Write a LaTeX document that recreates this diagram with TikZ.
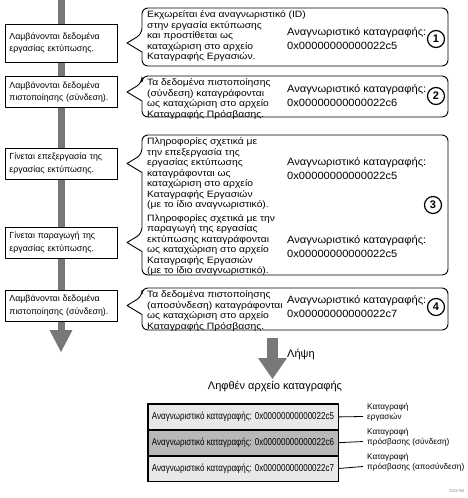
\documentclass[tikz,border=0pt]{standalone}
\usepackage{fontspec}
\setmainfont{Liberation Sans}
\newfontfamily\rfont[FakeStretch=1.12]{Liberation Sans}
\newfontfamily\idfont[FakeStretch=1.06]{Liberation Sans}
\usepackage{graphicx}
\definecolor{bargray}{gray}{0.47}
\definecolor{rowlight}{gray}{0.91}
\definecolor{rowdark}{gray}{0.72}
\newcommand\smalltxt{\rfont\fontsize{9.2}{10.5}\selectfont}
\newcommand\lefttxt{\fontsize{8.8}{12.5}\selectfont}
\newcommand\idtxt{\idfont\fontsize{10.5}{14}\selectfont}
\newcommand\titletxt{\fontsize{11}{12}\selectfont}
\newcommand\tabtxt{\fontsize{10}{12}\selectfont}
\newcommand\labtxt{\fontsize{8.2}{10.5}\selectfont}
\begin{document}
\begin{tikzpicture}[x=1pt,y=-1pt,line join=round,
  lbox/.style={draw, line width=0.9pt, fill=white, anchor=west, text width=104pt, inner xsep=4pt, inner ysep=0pt, minimum height=31pt, align=left, font=\lefttxt},
  cbox/.style={draw, line width=0.9pt, fill=white},
  rtxt/.style={anchor=north west, inner sep=0pt, align=left, font=\smalltxt},
  idn/.style={anchor=west, inner sep=0pt, align=left, font=\idtxt},
  num/.style={draw, circle, line width=1.2pt, minimum size=17pt, inner sep=0pt, font=\fontsize{11}{11}\selectfont\bfseries},
  row/.style={draw, line width=0.8pt, minimum width=190pt, minimum height=25pt, inner sep=0pt, font=\tabtxt},
  lab/.style={anchor=west, inner sep=0pt, align=left, font=\labtxt},
  conn/.style={line width=0.8pt}]
\useasboundingbox (0,0) rectangle (467,498);

% main vertical flow arrow
\fill[bargray] (57.5,0) rectangle (64.5,331);
\fill[bargray] (49.5,330) -- (72.5,330) -- (61,352) -- cycle;

% left step boxes
\node[lbox, minimum height=38pt] (l1) at (5,43) {Λαμβάνονται δεδομένα\\εργασίας εκτύπωσης.};
\node[lbox] (l2) at (5,92) {Λαμβάνονται δεδομένα\\πιστοποίησης (σύνδεση).};
\node[lbox] (l3) at (5,163.5) {Γίνεται επεξεργασία της\\εργασίας εκτύπωσης.};
\node[lbox] (l4) at (5,242.5) {Γίνεται παραγωγή της\\εργασίας εκτύπωσης.};
\node[lbox] (l5) at (5,305.5) {Λαμβάνονται δεδομένα\\πιστοποίησης (σύνδεση).};

% callout boxes
\draw[cbox] (142,34) -- (127,43) -- (142,52) [rounded corners=6pt] -- (142,66) -- (448,66) -- (448,8) -- (142,8) -- cycle;
\draw[cbox] (142,83) -- (127,92) -- (142,101) [rounded corners=6pt] -- (142,117) -- (448,117) -- (448,76) -- (142,76) -- cycle;
\draw[cbox] (142,154.5) -- (127,163.5) -- (142,172.5) [rounded corners=6pt] -- (142,233.5) [sharp corners] -- (127,242.5) -- (142,251.5) [rounded corners=6pt] -- (142,275) -- (448,275) -- (448,135) -- (142,135) -- cycle;
\draw[cbox] (142,296.5) -- (127,305.5) -- (142,314.5) [rounded corners=6pt] -- (142,330) -- (448,330) -- (448,288) -- (142,288) -- cycle;

% callout texts
\node[rtxt] (t1) at (147,10.5) {Εκχωρείται ένα αναγνωριστικό (ID)\\στην εργασία εκτύπωσης\\και προστίθεται ως\\καταχώριση στο αρχείο\\Καταγραφής Εργασιών.};
\node[rtxt] (t2) at (147,78.5) {Τα δεδομένα πιστοποίησης\\(σύνδεση) καταγράφονται\\ως καταχώριση στο αρχείο\\Καταγραφής Πρόσβασης.};
\node[rtxt] (t3) at (147,137.5) {Πληροφορίες σχετικά με\\την επεξεργασία της\\εργασίας εκτύπωσης\\καταγράφονται ως\\καταχώριση στο αρχείο\\Καταγραφής Εργασιών\\(με το ίδιο αναγνωριστικό).\\[3pt]Πληροφορίες σχετικά με την\\παραγωγή της εργασίας\\εκτύπωσης καταγράφονται\\ως καταχώριση στο αρχείο\\Καταγραφής Εργασιών\\(με το ίδιο αναγνωριστικό).};
\node[rtxt] (t4) at (147,290.5) {Τα δεδομένα πιστοποίησης\\(αποσύνδεση) καταγράφονται\\ως καταχώριση στο αρχείο\\Καταγραφής Πρόσβασης.};

% IDs
\node[idn] (i1) at (287,39) {Αναγνωριστικό καταγραφής:\\0x00000000000022c5};
\node[idn] (i2) at (287,96) {Αναγνωριστικό καταγραφής:\\0x00000000000022c6};
\node[idn] (i3a) at (287,169) {Αναγνωριστικό καταγραφής:\\0x00000000000022c5};
\node[idn] (i3b) at (287,247) {Αναγνωριστικό καταγραφής:\\0x00000000000022c5};
\node[idn] (i4) at (287,307) {Αναγνωριστικό καταγραφής:\\0x00000000000022c7};

% circled numbers
\node[num] (n1) at (436,39) {1};
\node[num] (n2) at (436,96) {2};
\node[num] (n3) at (433,205) {3};
\node[num] (n4) at (436,307) {4};

% download arrow
\fill[bargray] (267,338) rectangle (278,359);
\fill[bargray] (258,358) -- (287,358) -- (272.5,379) -- cycle;
\node[font=\titletxt, anchor=west, inner sep=0pt] (lh) at (287,354) {Λήψη};

% received log
\node[font=\titletxt, inner sep=0pt] (lt) at (275,386) {Ληφθέν αρχείο καταγραφής};
\node[row, fill=rowlight, anchor=north] (r1) at (243,404) {\scalebox{0.8}[1]{Αναγνωριστικό καταγραφής: 0x00000000000022c5}};
\node[row, fill=rowdark, anchor=north] (r2) at (r1.south) {\scalebox{0.8}[1]{Αναγνωριστικό καταγραφής: 0x00000000000022c6}};
\node[row, fill=rowlight, anchor=north] (r3) at (r2.south) {\scalebox{0.8}[1]{Αναγνωριστικό καταγραφής: 0x00000000000022c7}};
\draw[line width=1.6pt] (r1.north west) rectangle (r3.south east);

\coordinate (e1) at (363,416.5);
\coordinate (e2) at (363,441.5);
\coordinate (e3) at (363,466.5);
\draw[conn] (r1.east) -- (e1);
\draw[conn] (r2.east) -- (e2);
\draw[conn] (r3.east) -- (e3);
\node[lab] (lb1) at ([xshift=4pt,yshift=4pt]e1) {Καταγραφή\\εργασιών};
\node[lab] (lb2) at ([xshift=4pt,yshift=4pt]e2) {Καταγραφή\\πρόσβασης (σύνδεση)};
\node[lab] (lb3) at ([xshift=4pt,yshift=4pt]e3) {Καταγραφή\\πρόσβασης (αποσύνδεση)};

\node[font=\fontsize{4}{4}\selectfont, text=gray, inner sep=0pt] (dz) at (457,491) {DZX784};
\end{tikzpicture}
\end{document}
